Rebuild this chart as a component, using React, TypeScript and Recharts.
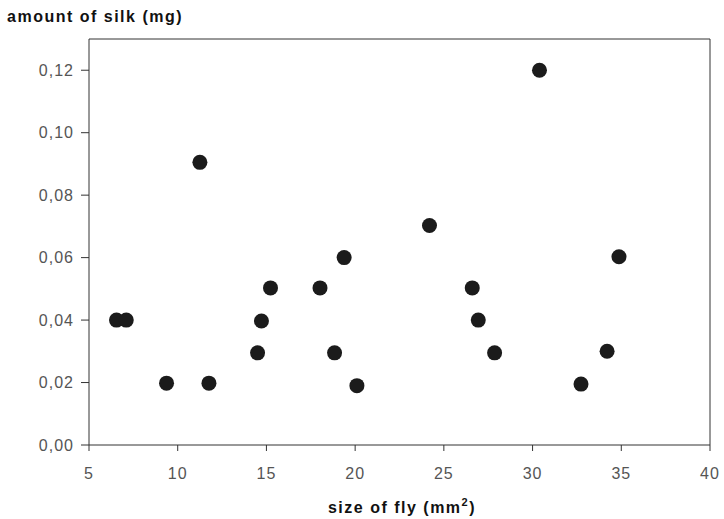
import { ScatterChart, Scatter, XAxis, YAxis, ReferenceLine, Label } from "recharts"

const flySize = [6.55, 7.1, 9.37, 11.76, 11.25, 14.5, 14.72, 15.23, 18.02, 18.84, 19.38, 20.1, 24.19, 26.6, 26.94, 27.86, 30.39, 32.73, 34.2, 34.87]
const silkAmount = [0.04, 0.04, 0.0198, 0.0198, 0.0905, 0.0295, 0.0397, 0.0503, 0.0503, 0.0295, 0.06, 0.019, 0.0703, 0.0503, 0.04, 0.0295, 0.12, 0.0195, 0.03, 0.0603]

const xTicks = [5, 10, 15, 20, 25, 30, 35, 40]
const yTicks = [0, 0.02, 0.04, 0.06, 0.08, 0.1, 0.12]

const data = flySize.map((x, i) => ({ x, y: silkAmount[i] }))

const ink = "#333"
const tickStyle = { fill: "#555", fontSize: 16, fontFamily: "Liberation Sans, Arial, sans-serif", letterSpacing: 1 }
const titleFont = "Liberation Sans, Arial, sans-serif"

const fmt = (v: number) => v.toFixed(2).replace(".", ",")

export default function App() {
	return (
		<div style={{ width: 724, height: 519 }}>
			<style>{`body{margin:0}`}</style>
			<ScatterChart width={724} height={519} margin={{ top: 39, right: 14, bottom: 0, left: 9 }}>
				<XAxis
					type="number"
					dataKey="x"
					domain={[5, 40]}
					ticks={xTicks}
					height={74}
					stroke={ink}
					tickSize={6}
					tickMargin={17}
					tick={tickStyle}
					allowDataOverflow
				>
					<Label
						content={() => (
							<text x={402} y={513} textAnchor="middle" fontFamily={titleFont} fontWeight="bold" fontSize={16} letterSpacing={1.5} fill="#111">
								size of fly (mm<tspan dy={-7} fontSize={11}>2</tspan><tspan dy={7}>)</tspan>
							</text>
						)}
					/>
				</XAxis>
				<YAxis
					type="number"
					dataKey="y"
					domain={[0, 0.13]}
					ticks={yTicks}
					width={80}
					stroke={ink}
					tickSize={8}
					tickMargin={7}
					tick={tickStyle}
					tickFormatter={fmt}
					allowDataOverflow
				>
					<Label
						content={() => (
							<text x={7} y={22} fontFamily={titleFont} fontWeight="bold" fontSize={16} letterSpacing={1.5} fill="#111">
								amount of silk (mg)
							</text>
						)}
					/>
				</YAxis>
				<ReferenceLine y={0.13} stroke={ink} />
				<ReferenceLine x={40} stroke={ink} />
				<Scatter
					data={data}
					isAnimationActive={false}
					shape={(p: any) => <circle cx={p.cx} cy={p.cy} r={7.5} fill="#1b1b1b" />}
				/>
			</ScatterChart>
		</div>
	)
}
